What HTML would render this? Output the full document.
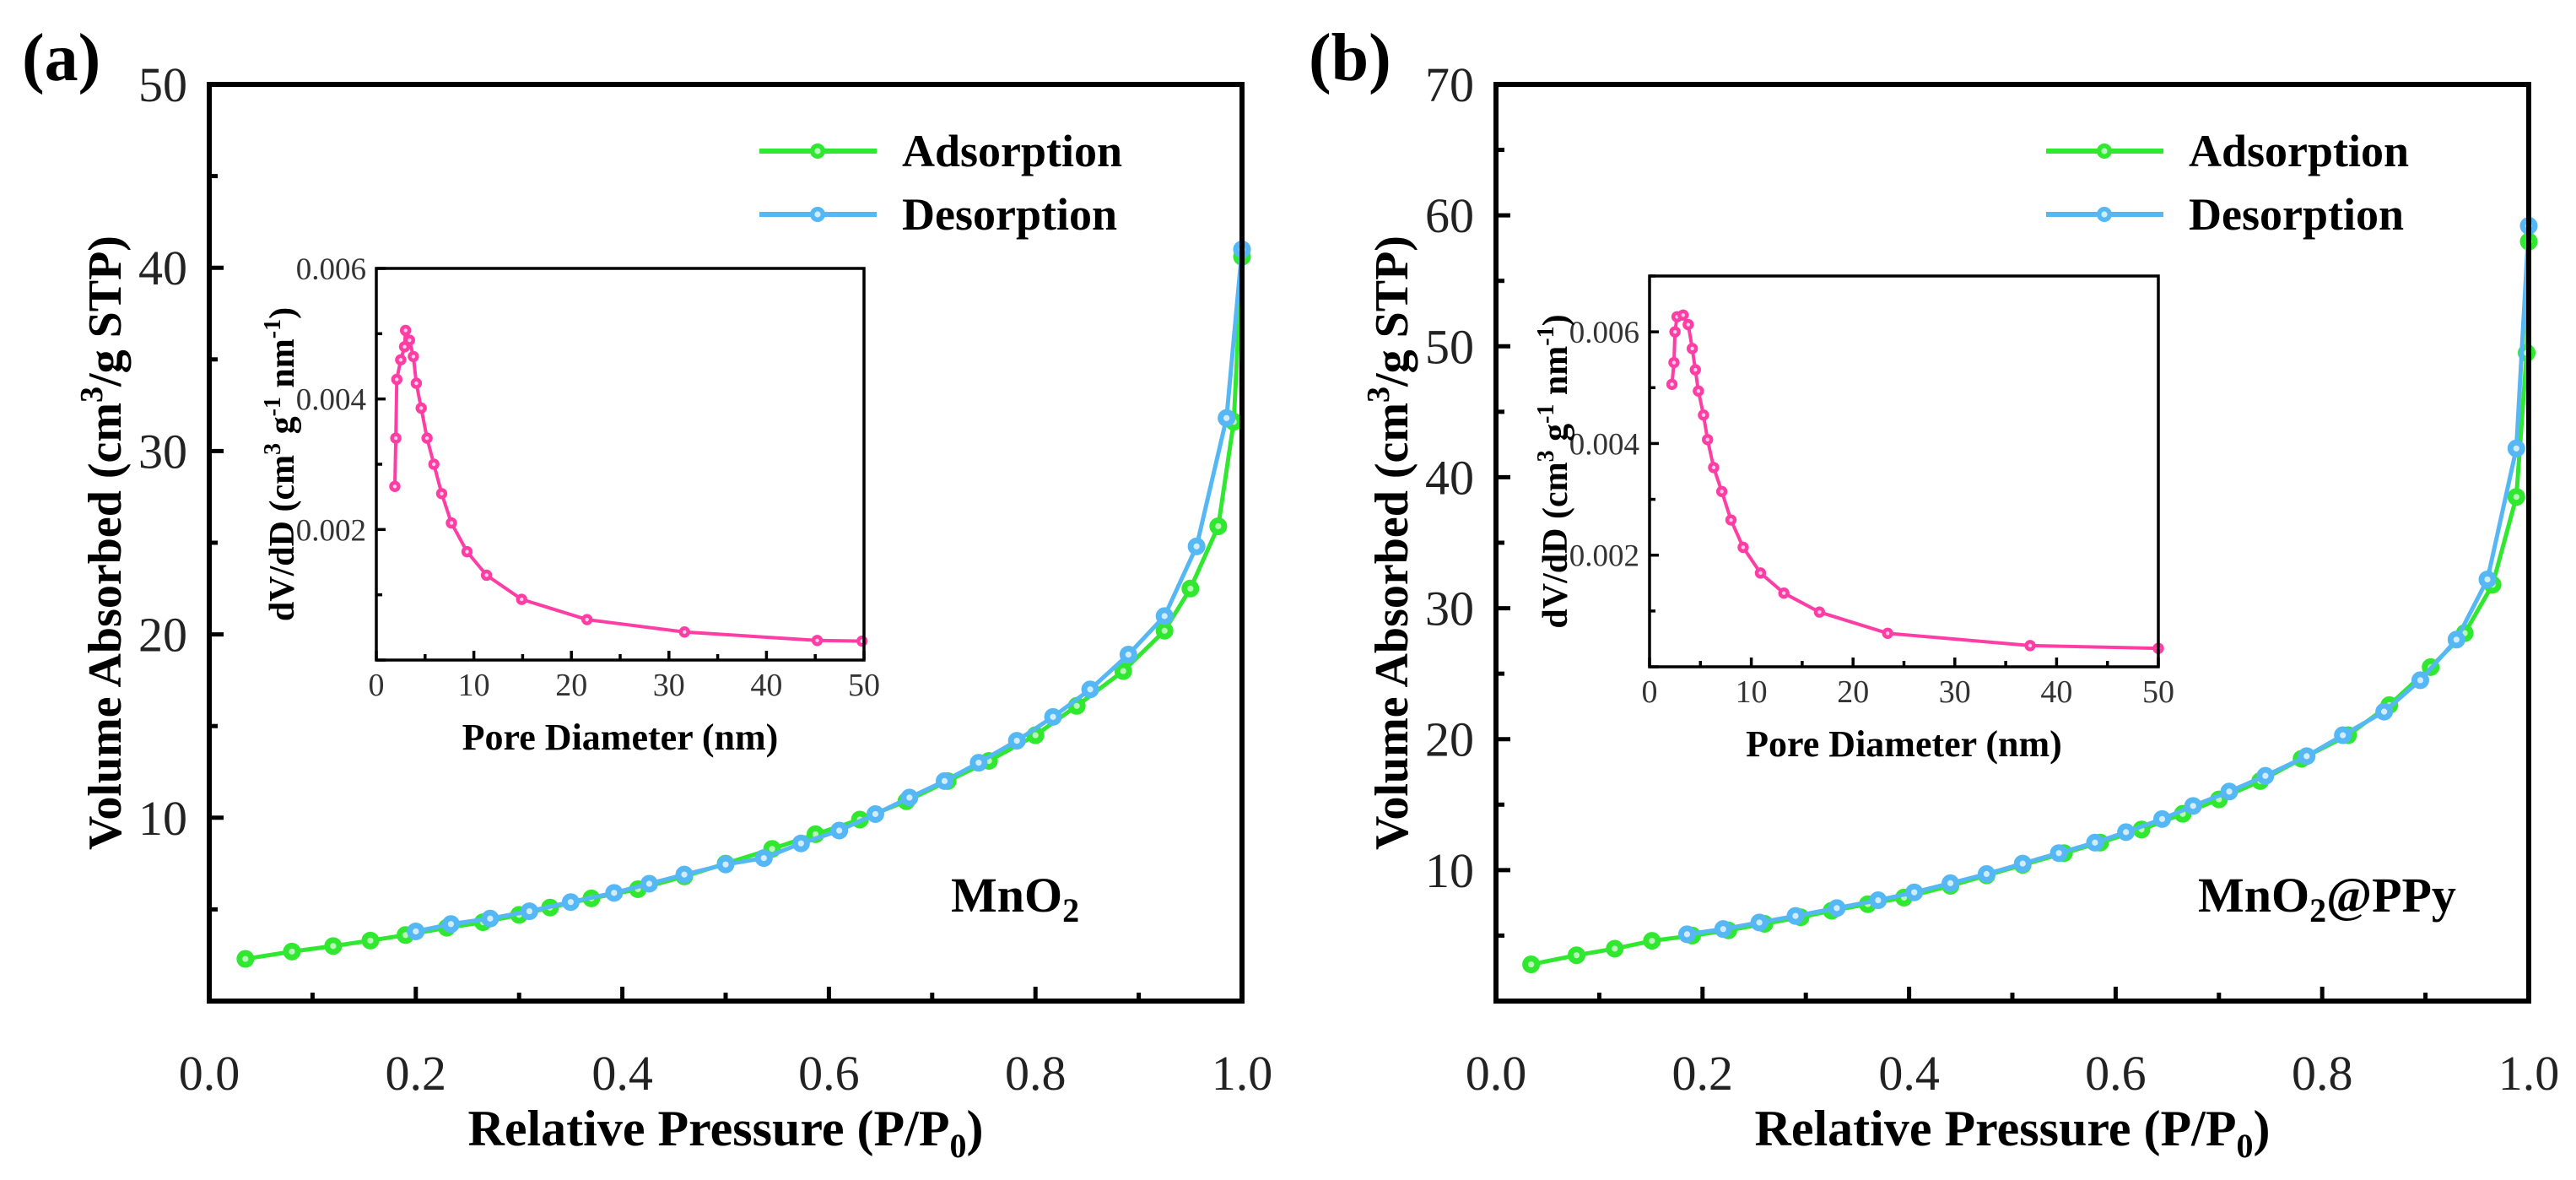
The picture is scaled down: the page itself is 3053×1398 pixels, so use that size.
<!DOCTYPE html>
<html><head><meta charset="utf-8"><style>
html,body{margin:0;padding:0;background:#fff;}
svg, svg text{font-family:"Liberation Serif","Times New Roman","DejaVu Serif",serif;}
</style></head><body>
<svg id="fig" width="3053" height="1393" viewBox="0 0 3053 1393" xmlns="http://www.w3.org/2000/svg" font-family="Liberation Serif, Times New Roman, serif"></svg>
<script>
// ---- Panel (a) MnO2 isotherm ----
const aAdsP = [0.035,0.08,0.12,0.156,0.19,0.23,0.265,0.3,0.33,0.37,0.415,0.46,0.5,0.545,0.587,0.63,0.675,0.715,0.755,0.8,0.84,0.885,0.925,0.95,0.977,0.992,1.0];
const aAdsV = [2.3,2.7,3.0,3.3,3.6,4.0,4.3,4.7,5.1,5.6,6.1,6.8,7.5,8.3,9.1,9.9,10.9,12.0,13.1,14.5,16.1,18.0,20.2,22.5,25.9,31.6,40.6];
const aDesP = [1.0,0.985,0.956,0.925,0.89,0.853,0.817,0.782,0.745,0.712,0.678,0.645,0.61,0.573,0.537,0.5,0.46,0.426,0.392,0.35,0.31,0.272,0.234,0.2];
const aDesV = [41.0,31.8,24.8,21.0,18.9,17.0,15.5,14.2,13.0,12.0,11.1,10.2,9.3,8.6,7.8,7.45,6.9,6.4,5.9,5.4,4.9,4.5,4.2,3.8];
// ---- Panel (a) inset pore distribution ----
const aPoreD = [1.9,2.0,2.1,2.5,2.9,3.0,3.4,3.8,4.1,4.6,5.2,5.9,6.7,7.7,9.3,11.3,14.9,21.6,31.6,45.2,49.8];
const aPoreV = [0.00266,0.0034,0.0043,0.0046,0.0048,0.00505,0.0049,0.00465,0.00424,0.00386,0.0034,0.0030,0.00255,0.0021,0.00166,0.0013,0.00093,0.00062,0.00043,0.0003,0.00029];
// ---- Panel (b) MnO2@PPy isotherm ----
const bAdsP = [0.034,0.078,0.115,0.151,0.19,0.225,0.26,0.295,0.325,0.36,0.395,0.44,0.475,0.51,0.55,0.585,0.625,0.665,0.70,0.74,0.78,0.825,0.865,0.905,0.938,0.965,0.988,0.998,1.0];
const bAdsV = [2.8,3.5,4.0,4.6,5.0,5.4,5.9,6.4,6.9,7.4,7.9,8.8,9.6,10.4,11.3,12.1,13.1,14.3,15.4,16.8,18.5,20.3,22.6,25.5,28.1,31.8,38.5,49.5,58.0];
const bDesP = [1.0,0.988,0.96,0.93,0.895,0.86,0.82,0.785,0.745,0.71,0.675,0.645,0.61,0.58,0.545,0.51,0.475,0.44,0.405,0.37,0.33,0.29,0.255,0.22,0.185];
const bDesV = [59.2,42.2,32.2,27.6,24.5,22.1,20.3,18.7,17.2,16.0,14.9,13.9,12.9,12.1,11.3,10.5,9.7,9.0,8.3,7.7,7.1,6.5,6.0,5.5,5.1];
// ---- Panel (b) inset ----
const bPoreD = [2.2,2.4,2.5,2.7,3.3,3.8,4.2,4.5,4.8,5.3,5.7,6.3,7.1,8.0,9.2,10.9,13.2,16.7,23.4,37.4,50];
const bPoreV = [0.00506,0.00545,0.006,0.00627,0.0063,0.00613,0.0057,0.00532,0.00494,0.00451,0.00407,0.00357,0.00314,0.00263,0.00214,0.00168,0.00132,0.00098,0.0006,0.00038,0.00033];
// tick labels
const mainXTicks = [0,0.2,0.4,0.6,0.8,1.0];
const aYTicks = [10,20,30,40,50];
const bYTicks = [10,20,30,40,50,60,70];
const insetXTicks = [0,10,20,30,40,50];
const aInsetYTicks = [0.002,0.004,0.006];
const bInsetYTicks = [0.002,0.004,0.006];

const NS="http://www.w3.org/2000/svg";
const FONT='Liberation Serif, Times New Roman, DejaVu Serif, serif';
const svg=document.getElementById('fig');
function mk(tag,attrs,parent){const e=document.createElementNS(NS,tag);for(const k in attrs)e.setAttribute(k,attrs[k]);if(tag==='text')e.setAttribute('font-family',FONT);(parent||svg).appendChild(e);return e;}
function scale(d0,d1,r0,r1){return v=>r0+(v-d0)/(d1-d0)*(r1-r0);}

function drawSeries(g,xs,ys,X,Y,color,r,sw,name,light){
  const pts=xs.map((v,i)=>X(v)+','+Y(ys[i])).join(' ');
  const pl=mk('polyline',{points:pts,fill:'none',stroke:color,'stroke-width':sw,'stroke-linejoin':'round'},g);
  
  
  xs.forEach((v,i)=>{
    const c=mk('circle',{cx:X(v),cy:Y(ys[i]),r:r,fill:color,stroke:color,'stroke-width':sw*0.6},g);
    
    
    const c2=mk('circle',{cx:X(v),cy:Y(ys[i]),r:r*0.4,fill:light},g);
    
    
  });
}

function panel(o){
  const g=mk('g',{});
  
  
  const X=scale(0,1,o.L,o.R), Y=scale(0,o.ymax,o.B,o.T);
  for(let v=0;v<=1.0001;v+=0.1){const maj=Math.round(v*10)%2===0;
    const t=mk('line',{x1:X(v),x2:X(v),y1:o.B,y2:o.B-(maj?17:10),stroke:'#000','stroke-width':5},g);
    }
  for(let v=0;v<=o.ymax;v+=5){const maj=v%10===0;
    const t=mk('line',{x1:o.L,x2:o.L+(maj?17:10),y1:Y(v),y2:Y(v),stroke:'#000','stroke-width':5},g);
    }
  mainXTicks.forEach(v=>{const t=mk('text',{x:X(v),y:o.B+105,'text-anchor':'middle','font-size':58,fill:'#222'},g);t.textContent=v.toFixed(1);
    });
  o.yticks.forEach(v=>{const t=mk('text',{x:o.L-26,y:Y(v)+20,'text-anchor':'end','font-size':58,fill:'#222'},g);t.textContent=v;
    });
  drawSeries(g,o.adsP,o.adsV,X,Y,'#30e830',9,5,'adsorption','#b8f7b8');
  drawSeries(g,o.desP,o.desV,X,Y,'#55b8f5',9,5,'desorption','#d0ecfd');
  const fr=mk('rect',{x:o.L,y:o.T,width:o.R-o.L,height:o.B-o.T,fill:'none',stroke:'#000','stroke-width':6},g);
  
  const xt=mk('text',{x:(o.L+o.R)/2,y:1357,'text-anchor':'middle','font-size':60,'font-weight':'bold'},g);
  
  xt.innerHTML='Relative Pressure (P/P<tspan font-size="40" dy="14">0</tspan><tspan dy="-14">)</tspan>';
  const yt=mk('text',{x:0,y:0,'text-anchor':'middle','font-size':56,'font-weight':'bold',transform:`translate(${o.L-105},643) rotate(-90)`},g);
  
  yt.innerHTML='Volume Absorbed (cm<tspan font-size="38" dy="-22">3</tspan><tspan dy="22">/g STP)</tspan>';
  const pl=mk('text',{x:o.L-222,y:95,'font-size':80,'font-weight':'bold'},g);pl.textContent=o.letter;
  
  [['Adsorption','#30e830','#b8f7b8',179],['Desorption','#55b8f5','#d0ecfd',254]].forEach(([lab,c,lc,yy])=>{
    const lg=mk('g',{},g);
    mk('line',{x1:o.L+652,x2:o.L+791,y1:yy,y2:yy,stroke:c,'stroke-width':6},lg);
    mk('circle',{cx:o.L+721,cy:yy,r:9,fill:c},lg);
    mk('circle',{cx:o.L+721,cy:yy,r:3.6,fill:lc},lg);
    const t=mk('text',{x:o.L+821,y:yy+18,'font-size':54,'font-weight':'bold'},lg);t.textContent=lab;
  });
  const sl=mk('text',{x:o.sampleX,y:1080,'font-size':58,'font-weight':'bold'},g);
  
  sl.innerHTML=o.sample;
  const ig=mk('g',{},g);
  const iX=scale(0,50,o.iL,o.iR), iY=scale(0,o.iymax,o.iB,o.iT);
  for(let v=0;v<=50;v+=5){const maj=v%10===0;
    const t=mk('line',{x1:iX(v),x2:iX(v),y1:o.iB,y2:o.iB-(maj?11:7),stroke:'#000','stroke-width':3.5},ig);
    }
  for(let v=0;v<=o.iymax+1e-9;v+=0.001){const maj=Math.round(v*1000)%2===0;
    const t=mk('line',{x1:o.iL,x2:o.iL+(maj?11:7),y1:iY(v),y2:iY(v),stroke:'#000','stroke-width':3.5},ig);
    }
  insetXTicks.forEach(v=>{const t=mk('text',{x:iX(v),y:o.iB+42,'text-anchor':'middle','font-size':38,fill:'#333'},ig);t.textContent=v;
    });
  o.iyticks.forEach(v=>{const t=mk('text',{x:o.iL-12,y:iY(v)+13,'text-anchor':'end','font-size':37,fill:'#333'},ig);t.textContent=v.toFixed(3);
    });
  drawSeries(ig,o.poreD,o.poreV,iX,iY,'#ff3ea5',5.5,4,'pore-distribution','#ffd0e8');
  const ifr=mk('rect',{x:o.iL,y:o.iT,width:o.iR-o.iL,height:o.iB-o.iT,fill:'none',stroke:'#000','stroke-width':3.5},ig);
  
  const ixt=mk('text',{x:(o.iL+o.iR)/2,y:o.iB+106,'text-anchor':'middle','font-size':44,'font-weight':'bold'},ig);ixt.textContent='Pore Diameter (nm)';
  
  const iyt=mk('text',{x:0,y:0,'text-anchor':'middle','font-size':42,'font-weight':'bold',transform:`translate(${o.iL-98},${(o.iT+o.iB)/2}) rotate(-90)`},ig);
  
  iyt.innerHTML='dV/dD (cm<tspan font-size="28" dy="-16">3</tspan><tspan dy="16"> g</tspan><tspan font-size="28" dy="-16">-1</tspan><tspan dy="16"> nm</tspan><tspan font-size="28" dy="-16">-1</tspan><tspan dy="16">)</tspan>';
}

panel({id:'panel-a-mno2',letter:'(a)',L:248,R:1472,T:100,B:1186,ymax:50,yticks:aYTicks,
  adsP:aAdsP,adsV:aAdsV,desP:aDesP,desV:aDesV,
  sample:'MnO<tspan font-size="40" dy="12">2</tspan>',sampleX:1127,
  iL:446,iR:1024,iT:318,iB:782,iymax:0.006,iyticks:aInsetYTicks,poreD:aPoreD,poreV:aPoreV});
panel({id:'panel-b-mno2-ppy',letter:'(b)',L:1773,R:2997,T:100,B:1186,ymax:70,yticks:bYTicks,
  adsP:bAdsP,adsV:bAdsV,desP:bDesP,desV:bDesV,
  sample:'MnO<tspan font-size="40" dy="12">2</tspan><tspan dy="-12">@PPy</tspan>',sampleX:2605,
  iL:1955,iR:2558,iT:327,iB:790,iymax:0.007,iyticks:bInsetYTicks,poreD:bPoreD,poreV:bPoreV});
</script>
</body></html>
